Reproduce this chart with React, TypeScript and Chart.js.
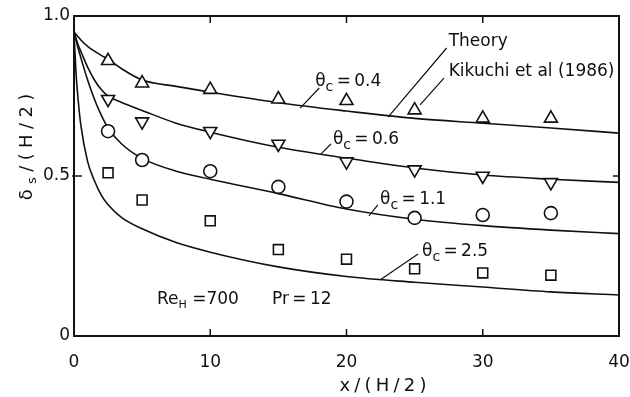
import { useEffect, useRef } from "react";
import { Chart, registerables } from "chart.js";

Chart.register(...registerables);

const FONT = '"DejaVu Sans", "Liberation Sans", sans-serif';
const INK = "#111";
const THIN = "\u2009";

// Measured stations, x/(H/2)
const stationX = [2.5, 5, 10, 15, 20, 25, 30, 35];
// Kikuchi et al (1986) measurements of δs/(H/2)
const kikuchi04 = [0.86, 0.79, 0.77, 0.74, 0.735, 0.706, 0.68, 0.68];
const kikuchi06 = [0.74, 0.67, 0.64, 0.6, 0.545, 0.52, 0.5, 0.48];
const kikuchi11 = [0.64, 0.55, 0.515, 0.466, 0.42, 0.369, 0.378, 0.384];
const kikuchi25 = [0.51, 0.425, 0.36, 0.27, 0.24, 0.21, 0.197, 0.19];

// Theory curves
const theoryX = [0, 0.15, 0.3, 0.5, 1, 1.5, 2, 2.5, 3.5, 5, 7.5, 10, 15, 20, 25, 30, 35, 40];
const theory04 = [0.95, 0.943, 0.935, 0.925, 0.905, 0.89, 0.877, 0.865, 0.835, 0.8, 0.78, 0.762, 0.729, 0.703, 0.68, 0.665, 0.65, 0.634];
const theory06 = [0.95, 0.93, 0.91, 0.89, 0.84, 0.8, 0.77, 0.75, 0.73, 0.705, 0.665, 0.637, 0.59, 0.556, 0.525, 0.503, 0.49, 0.48];
const theory11 = [0.95, 0.925, 0.9, 0.87, 0.8, 0.74, 0.69, 0.65, 0.6, 0.555, 0.515, 0.49, 0.445, 0.397, 0.365, 0.345, 0.331, 0.32];
const theory25 = [0.95, 0.82, 0.74, 0.66, 0.545, 0.485, 0.44, 0.41, 0.37, 0.335, 0.292, 0.262, 0.216, 0.186, 0.168, 0.153, 0.138, 0.128];

// Axis ticks
const xTicks = [0, 10, 20, 30, 40];
const yTicks = [0, 0.5, 1];
const yTickLabels = ["0", "0.5", "1.0"];
const xInnerTicks = [10, 20, 30];
const yInnerTicks = [0.5];

// θc labels: value, text position (data units), leader line from/to
const thetaValues = ["0.4", "0.6", "1.1", "2.5"];
const thetaTextAt = [[17.7, 0.794], [19.0, 0.6125], [22.46, 0.425], [25.54, 0.2625]];
const thetaLeaders = [
  [18.0, 0.775, 16.6, 0.712],
  [18.86, 0.6, 18.13, 0.569],
  [22.3, 0.41, 21.65, 0.375],
  [25.25, 0.256, 22.46, 0.175],
];

// Notes with their leaders
const noteTexts = ["Theory", "Kikuchi et al (1986)"];
const noteTextAt = [[27.5, 0.919], [27.5, 0.825]];
const noteLeaders = [
  [27.35, 0.9, 23.05, 0.684],
  [27.15, 0.806, 25.4, 0.722],
];

const reText = "700";
const prText = "12";
const conditionsAt = [[6.09, 0.1125], [14.53, 0.1125]];

type Part = [string, boolean];

function drawRich(ctx: CanvasRenderingContext2D, parts: Part[], x: number, y: number, size: number, subScale = 0.72) {
  let cx = x;
  ctx.textBaseline = "middle";
  ctx.textAlign = "left";
  for (const [t, sub] of parts) {
    const s = sub ? Math.round(size * subScale) : size;
    ctx.font = `${s}px ${FONT}`;
    ctx.fillText(t, cx, sub ? y + size * 0.3 : y);
    cx += ctx.measureText(t).width;
  }
}

function spacedWidth(ctx: CanvasRenderingContext2D, parts: Part[], size: number, gap: number) {
  let w = 0;
  let n = 0;
  for (const [t, sub] of parts) {
    ctx.font = `${sub ? Math.round(size * 0.72) : size}px ${FONT}`;
    for (const ch of t) {
      w += ctx.measureText(ch).width;
      n++;
    }
  }
  return w + gap * (n - 1);
}

function drawSpaced(ctx: CanvasRenderingContext2D, parts: Part[], cx: number, cy: number, size: number, gap: number) {
  const total = spacedWidth(ctx, parts, size, gap);
  let x = cx - total / 2;
  ctx.textBaseline = "middle";
  ctx.textAlign = "left";
  for (const [t, sub] of parts) {
    ctx.font = `${sub ? Math.round(size * 0.72) : size}px ${FONT}`;
    for (const ch of t) {
      ctx.fillText(ch, x, sub ? cy + size * 0.3 : cy);
      x += ctx.measureText(ch).width + gap;
    }
  }
}

const decorations = {
  id: "decorations",
  afterDatasetsDraw(chart: any) {
    const { ctx, chartArea: a, scales } = chart;
    const xs = scales.x;
    const ys = scales.y;
    const px = (v: number) => xs.getPixelForValue(v);
    const py = (v: number) => ys.getPixelForValue(v);
    ctx.save();
    ctx.strokeStyle = INK;
    ctx.fillStyle = INK;

    // plot frame
    ctx.lineWidth = 2;
    ctx.strokeRect(a.left, a.top, a.right - a.left, a.bottom - a.top);

    // inward tick marks
    ctx.lineWidth = 1.5;
    ctx.beginPath();
    for (const v of xInnerTicks) {
      const x = px(v);
      ctx.moveTo(x, a.bottom);
      ctx.lineTo(x, a.bottom - 7);
      ctx.moveTo(x, a.top);
      ctx.lineTo(x, a.top + 7);
    }
    for (const v of yInnerTicks) {
      const y = py(v);
      ctx.moveTo(a.left - 2, y);
      ctx.lineTo(a.left + 8, y);
      ctx.moveTo(a.right, y);
      ctx.lineTo(a.right - 6, y);
    }
    ctx.stroke();

    // leader lines
    ctx.lineWidth = 1.2;
    ctx.beginPath();
    for (const [x0, y0, x1, y1] of [...thetaLeaders, ...noteLeaders]) {
      ctx.moveTo(px(x0), py(y0));
      ctx.lineTo(px(x1), py(y1));
    }
    ctx.stroke();

    const size = 17;
    thetaValues.forEach((v, i) => {
      const [tx, ty] = thetaTextAt[i];
      drawRich(ctx, [["θ", false], ["c", true], [THIN + "=" + THIN + v, false]], px(tx), py(ty), size, 0.82);
    });
    noteTexts.forEach((t, i) => {
      const [tx, ty] = noteTextAt[i];
      drawRich(ctx, [[t, false]], px(tx), py(ty), size);
    });
    drawRich(ctx, [["Re", false], ["H", true], [" =" + reText, false]], px(conditionsAt[0][0]), py(conditionsAt[0][1]), size, 0.65);
    drawRich(ctx, [["Pr" + THIN + "=" + THIN + prText, false]], px(conditionsAt[1][0]), py(conditionsAt[1][1]), size);

    // axis titles
    drawSpaced(ctx, [["x/(H/2)", false]], 383, 386, 18, 4.2);
    ctx.translate(27, 147);
    ctx.rotate(-Math.PI / 2);
    drawSpaced(ctx, [["δ", false], ["s", true], ["/(H/2)", false]], 0, 0, 18, 5.4);
    ctx.restore();
  },
};

const markerSet = (data: number[], style: string, radius: number, rotation = 0) => ({
  type: "scatter" as const,
  data: stationX.map((x, i) => ({ x, y: data[i] })),
  pointStyle: style,
  pointRadius: radius,
  rotation,
  pointBorderWidth: 1.6,
  pointBorderColor: INK,
  pointBackgroundColor: "#fff",
  showLine: false,
  order: 0,
});

const curveSet = (data: number[]) => ({
  type: "line" as const,
  data: theoryX.map((x, i) => ({ x, y: data[i] })),
  borderColor: INK,
  borderWidth: 1.6,
  pointRadius: 0,
  cubicInterpolationMode: "monotone" as const,
  fill: false,
  order: 1,
});

export default function App() {
  const canvasRef = useRef<HTMLCanvasElement | null>(null);

  useEffect(() => {
    if (!canvasRef.current) return;
    const chart = new Chart(canvasRef.current, {
      type: "scatter",
      data: {
        datasets: [
          markerSet(kikuchi04, "triangle", 7.5),
          markerSet(kikuchi06, "triangle", 7.5, 180),
          markerSet(kikuchi11, "circle", 6.5),
          markerSet(kikuchi25, "rect", 7),
          curveSet(theory04),
          curveSet(theory06),
          curveSet(theory11),
          curveSet(theory25),
        ] as any,
      },
      options: {
        responsive: false,
        animation: false,
        devicePixelRatio: 1,
        layout: { padding: { top: 16, right: 11, left: 0, bottom: 0 } },
        plugins: { legend: { display: false }, tooltip: { enabled: false } },
        scales: {
          x: {
            type: "linear",
            min: 0,
            max: 40,
            grid: { display: false, drawTicks: false },
            border: { display: false },
            afterBuildTicks: (s: any) => {
              s.ticks = xTicks.map((v) => ({ value: v }));
            },
            afterFit: (s: any) => {
              s.height = 61;
              s.paddingLeft = 0;
              s.paddingRight = 0;
            },
            ticks: {
              padding: 16,
              color: INK,
              font: { family: FONT, size: 17 },
              maxRotation: 0,
              callback: (v: any) => String(v),
            },
          },
          y: {
            type: "linear",
            min: 0,
            max: 1,
            grid: { display: false, drawTicks: false },
            border: { display: false },
            afterBuildTicks: (s: any) => {
              s.ticks = yTicks.map((v) => ({ value: v }));
            },
            afterFit: (s: any) => {
              s.width = 74;
              s.paddingTop = 0;
              s.paddingBottom = 0;
            },
            ticks: {
              padding: 4,
              color: INK,
              font: { family: FONT, size: 17 },
              callback: (v: any) => yTickLabels[yTicks.indexOf(Number(v))] ?? "",
            },
          },
        },
      },
      plugins: [decorations],
    });
    return () => chart.destroy();
  }, []);

  return (
    <div style={{ position: "absolute", left: 0, top: 0, width: 630, height: 397, background: "#fff" }}>
      <canvas ref={canvasRef} width={630} height={397} />
    </div>
  );
}
